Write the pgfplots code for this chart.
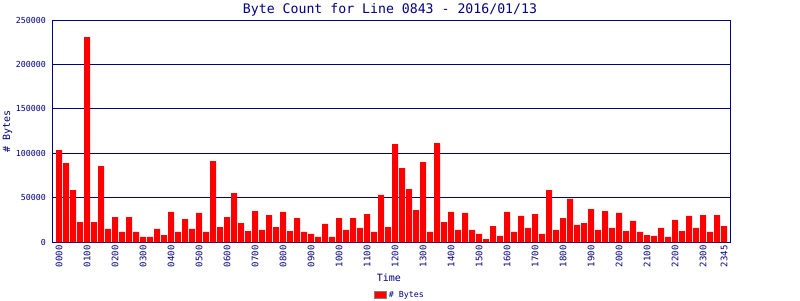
\documentclass[border=0pt]{standalone}
\usepackage{pgfplots}
\pgfplotsset{compat=1.18}
\usepackage{pgfplotstable}
\usepackage{fontspec}
\setmainfont{DejaVu Sans Mono}
\definecolor{navy}{RGB}{0,0,128}
\pgfplotstableread{
x y
0 103700
1 89100
2 58800
3 22800
4 230700
5 22800
6 85700
7 15000
8 28400
9 11600
10 28400
11 11600
12 6000
13 6000
14 15000
15 8200
16 34100
17 11600
18 26200
19 15000
20 33000
21 11600
22 91400
23 17200
24 28400
25 55400
26 21700
27 12700
28 35200
29 13900
30 30700
31 17200
32 34100
33 12700
34 27300
35 11600
36 9400
37 6000
38 20600
39 6000
40 27300
41 13900
42 27300
43 16100
44 31800
45 11600
46 53200
47 17200
48 110500
49 83500
50 59900
51 36300
52 90300
53 11600
54 111600
55 22800
56 34100
57 13900
58 33000
59 13900
60 9400
61 3700
62 18300
63 7100
64 34100
65 11600
66 29600
67 16100
68 31800
69 9400
70 58800
71 13900
72 27300
73 48700
74 19500
75 21700
76 37400
77 13900
78 35200
79 16100
80 33000
81 12700
82 24000
83 11600
84 8200
85 7100
86 16100
87 6000
88 25100
89 12700
90 29600
91 16100
92 30700
93 11600
94 30700
95 18300
}\bytes
\begin{document}
\begin{tikzpicture}
\path[use as bounding box] (-52pt,-57.7pt) rectangle (748pt,242.3pt);
\begin{axis}[
  at={(0pt,0pt)}, anchor=south west,
  scale only axis, width=678pt, height=222.3pt,
  xmin=-1, xmax=95.857, ymin=0, ymax=250000,
  axis line style={navy, line width=1pt},
  ymajorgrids, grid style={navy, line width=1pt},
  major tick length=0pt,
  ytick={0,50000,100000,150000,200000,250000},
  scaled y ticks=false,
  /pgf/number format/.cd, fixed, 1000 sep={}, assume math mode=true, /pgfplots/.cd,
  yticklabel style={font=\fontsize{8.3}{9}\selectfont, text=navy, anchor=east, inner sep=0pt, xshift=-6pt},
  xtick={0,4,8,12,16,20,24,28,32,36,40,44,48,52,56,60,64,68,72,76,80,84,88,92,95},
  xticklabels={0000,0100,0200,0300,0400,0500,0600,0700,0800,0900,1000,1100,1200,1300,1400,1500,1600,1700,1800,1900,2000,2100,2200,2300,2345},
  xticklabel style={font=\fontsize{9}{10}\selectfont, text=navy, yshift=-3pt, rotate=90, anchor=east, inner sep=0pt},
  title={Byte Count for Line 0843 - 2016/01/13},
  title style={at={(axis description cs:0.4985,1)}, anchor=base, yshift=0.7pt, font=\fontsize{13.2}{15}\selectfont, text=navy},
  xlabel={Time},
  xlabel style={at={(axis description cs:0.497,0)}, anchor=center, yshift=-35.2pt, font=\fontsize{10}{12}\selectfont, text=navy},
  ylabel={\# Bytes},
  ylabel style={at={(axis description cs:-0.0656,0.5)}, anchor=center, font=\fontsize{10}{12}\selectfont, text=navy},
  legend style={at={(axis description cs:0.513,0)}, anchor=center, yshift=-52.7pt, draw=none, fill=none, inner sep=0pt, font=\fontsize{8.3}{9}\selectfont, text=navy},
  legend image code/.code={\draw[fill=red, draw=gray, line width=1pt] (0pt,-3.5pt) rectangle (12pt,4pt);},
]
\addplot[ybar, bar width=6pt, bar shift=0pt, fill=red, draw=none] table[x=x, y=y] {\bytes};
\addlegendentry{\# Bytes}
\end{axis}
\end{tikzpicture}
\end{document}
